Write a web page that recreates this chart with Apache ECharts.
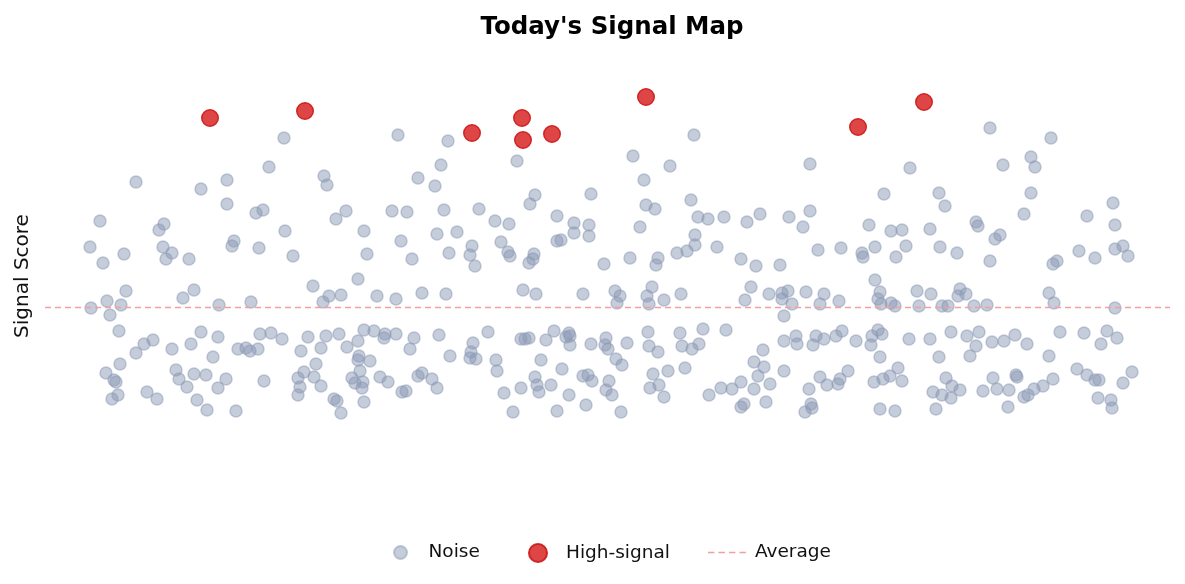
<!DOCTYPE html>
<html>
<head>
<meta charset="utf-8">
<script src="https://cdn.jsdelivr.net/npm/echarts@6/dist/echarts.min.js"></script>
<style>
html,body{margin:0;padding:0;background:#fff;}
#chart{width:1185px;height:584px;}
</style>
</head>
<body>
<div id="chart"></div>
<script>
const titleText = "Today's Signal Map";
const yAxisName = 'Signal Score';
const seriesNames = ['Noise', 'High-signal', 'Average'];
const averageScore = 1.77;

const highSignal = [
  [16.5,3.66],[26.0,3.73],[42.7,3.51],[47.7,3.66],[47.8,3.44],[50.7,3.50],[60.1,3.87],[81.3,3.57],[87.9,3.82]
];

const noiseA = [
  [23.9,3.46],[22.4,3.17],[27.9,3.08],[28.2,2.99],[9.1,3.02],[18.2,3.04],[15.6,2.95],[18.2,2.80],[21.1,2.71],[21.8,2.74],
  [30.1,2.73],[29.1,2.65],[5.5,2.63],[11.9,2.60],[11.4,2.54],[24.0,2.53],[18.9,2.43],[18.7,2.38],[4.5,2.37],[11.8,2.37],
  [12.7,2.31],[7.9,2.30],[21.4,2.36],[24.8,2.28],[5.8,2.21],[12.1,2.25],[14.4,2.25],
  [8.1,1.93],[6.2,1.83],[4.6,1.76],[7.6,1.79],[6.5,1.69],[13.8,1.86],[14.9,1.94],[17.4,1.79],[20.6,1.82],[26.8,1.98],
  [28.4,1.88],[27.8,1.82],[29.6,1.89],[7.4,1.53],[15.6,1.52],[10.8,1.44],[9.9,1.40],[9.1,1.31],[12.7,1.35],[14.6,1.40],
  [17.3,1.47],[21.5,1.50],[22.6,1.51],[23.7,1.45],[19.3,1.35],[20.1,1.36],[20.5,1.33],[21.3,1.35],[16.8,1.27],[26.3,1.47],
  [28.1,1.48],[29.4,1.50],[25.6,1.33],[27.6,1.36],[30.2,1.37],[7.5,1.20],[6.1,1.11],[6.9,1.04],[7.1,1.02],[13.1,1.14],
  [13.4,1.05],[14.9,1.10],[16.1,1.09],[18.1,1.05],[17.3,0.96],[14.2,0.97],[21.9,1.03],[27.1,1.20],[25.9,1.12],[25.3,1.06],
  [25.5,0.97],[25.3,0.89],[26.9,1.07],[27.6,0.98],[30.7,1.06],[10.2,0.92],[11.2,0.85],[7.3,0.89],[6.7,0.85],[15.2,0.84],
  [16.2,0.74],[19.1,0.73],[28.9,0.85],[29.2,0.83],[29.6,0.71]
];

const noiseB = [
  [35.3,3.49],[40.3,3.43],[39.6,3.19],[37.3,3.06],[39.0,2.98],[47.2,3.23],[49.0,2.89],[48.5,2.80],[54.6,2.90],[34.7,2.73],
  [36.2,2.72],[39.9,2.74],[43.4,2.75],[45.0,2.63],[46.4,2.60],[51.2,2.68],[52.9,2.61],[54.4,2.59],[31.9,2.53],[35.6,2.43],
  [39.2,2.50],[41.2,2.52],[45.6,2.42],[51.2,2.43],[51.6,2.44],[52.9,2.51],[54.4,2.48],[32.2,2.30],[36.7,2.25],[40.4,2.31],
  [42.7,2.38],[42.5,2.29],[46.3,2.32],[46.5,2.28],[48.9,2.30],[48.8,2.25],[48.4,2.21],[55.9,2.20],
  [43.0,2.18],[31.3,2.05],[33.2,1.88],[35.1,1.85],[37.7,1.91],[40.1,1.90],[47.8,1.94],[49.1,1.90],[53.8,1.90],
  [31.9,1.54],[32.9,1.53],[34.0,1.50],[33.9,1.46],[35.1,1.50],[31.3,1.43],[36.9,1.46],[36.5,1.35],[39.4,1.49],[31.4,1.28],
  [31.3,1.24],[32.5,1.23],[31.5,1.13],[31.0,1.01],[31.8,1.02],[31.7,0.96],[33.5,1.07],[34.3,1.02],[31.9,0.82],[35.7,0.92],
  [36.1,0.93],[37.3,1.08],[37.7,1.11],[38.7,1.05],[39.2,0.96],[40.5,1.28],[42.8,1.41],[42.6,1.32],[42.5,1.26],[43.1,1.25],
  [44.3,1.52],[45.1,1.24],[45.2,1.13],[45.9,0.91],[46.8,0.72],[47.6,0.96],[47.6,1.45],[48.0,1.45],[48.4,1.46],[50.1,1.44],
  [50.9,1.53],[49.6,1.24],[52.1,1.47],[52.4,1.51],[52.5,1.48],[52.5,1.39],[54.6,1.40],[51.7,1.15],[49.0,1.07],[49.2,0.99],
  [49.4,0.92],[50.6,0.99],[52.4,0.89],[51.2,0.73],[54.1,0.79],[53.8,1.08],[54.3,1.09],[54.7,1.03]
];

const noiseC = [
  [64.9,3.49],[58.8,3.28],[62.5,3.18],[59.9,3.04],[76.5,3.20],[64.6,2.84],[60.1,2.79],[61.0,2.75],[59.5,2.57],[65.3,2.67],
  [66.3,2.65],[67.9,2.67],[70.2,2.62],[71.5,2.70],[74.4,2.67],[76.5,2.73],[75.8,2.57],[82.4,2.59],[65.0,2.49],[65.0,2.39],
  [63.2,2.31],[64.2,2.33],[67.2,2.37],[77.3,2.34],[79.6,2.36],[81.7,2.31],[81.8,2.27],[58.5,2.26],[61.3,2.26],[69.6,2.25],
  [61.1,2.19],[71.1,2.18],[73.5,2.19],[57.0,1.93],[57.5,1.88],[57.2,1.81],[60.7,1.97],[60.2,1.88],[60.4,1.80],[61.9,1.84],
  [63.6,1.90],[70.6,1.97],[70.0,1.84],[72.4,1.90],[73.7,1.91],[74.3,1.93],[73.7,1.85],[74.7,1.80],[76.1,1.92],[77.9,1.90],
  [77.5,1.80],[79.4,1.83],[73.9,1.68],
  [56.1,1.46],[56.0,1.39],[56.3,1.35],[58.2,1.41],[57.1,1.25],[57.7,1.19],[60.3,1.52],[60.4,1.38],[61.3,1.32],[63.5,1.51],
  [63.7,1.38],[64.7,1.35],[65.4,1.40],[65.8,1.55],[68.1,1.54],[64.0,1.16],[62.3,1.13],[60.8,1.10],[61.4,0.99],[60.5,0.96],
  [61.9,0.87],[56.4,1.03],[56.1,0.94],[56.7,0.89],[57.6,0.72],[66.4,0.89],[67.6,0.96],[68.7,0.95],[69.6,1.02],[70.9,0.95],
  [70.9,1.22],[71.8,1.34],[71.9,1.17],[71.3,1.08],[72.5,1.00],[72.1,0.82],[69.6,0.77],[69.9,0.80],[73.9,1.43],[75.1,1.48],
  [75.2,1.40],[73.9,1.13],[77.1,1.48],[76.8,1.39],[77.9,1.45],[79.1,1.48],[79.7,1.53],[81.1,1.43],[77.5,1.07],[78.2,0.99],
  [79.3,1.00],[79.5,1.05],[80.3,1.13],[76.4,0.95],[76.6,0.80],[76.7,0.76],[76.0,0.72]
];

const noiseD = [
  [94.5,3.56],[100.6,3.46],[98.6,3.27],[99.0,3.17],[95.8,3.19],[86.5,3.16],[83.9,2.90],[89.4,2.91],[90.0,2.78],[98.6,2.91],
  [97.9,2.70],[106.8,2.81],[104.2,2.68],[107.0,2.59],[84.6,2.53],[85.7,2.54],[88.5,2.55],[93.1,2.62],[93.3,2.58],[95.5,2.49],
  [95.0,2.45],[83.0,2.37],[86.1,2.38],[89.5,2.37],[91.2,2.31],[85.1,2.27],[103.4,2.33],[105.0,2.26],[107.0,2.35],[107.8,2.38],
  [108.3,2.28],[94.5,2.23],[101.2,2.23],
  [100.8,2.20],[83.0,2.04],[83.5,1.92],[83.3,1.85],[83.6,1.80],[84.6,1.81],[85.0,1.78],[87.2,1.93],[87.4,1.78],[88.6,1.90],
  [89.7,1.78],[90.3,1.78],[91.5,1.95],[91.3,1.88],[92.1,1.90],[92.9,1.78],[94.2,1.79],[100.4,1.91],[100.9,1.81],[107.0,1.76],
  [83.3,1.54],[82.7,1.48],[83.7,1.50],[82.6,1.39],[83.5,1.27],[86.4,1.45],[88.5,1.45],[90.6,1.52],[89.4,1.27],[92.2,1.48],
  [93.4,1.52],[93.1,1.38],[92.5,1.28],[94.7,1.42],[95.9,1.43],[97.0,1.49],[98.2,1.40],[100.4,1.28],[101.5,1.52],[103.9,1.51],
  [106.2,1.53],[107.2,1.46],[105.6,1.40],[85.3,1.16],[84.5,1.08],[83.8,1.05],[82.9,1.02],[85.7,1.03],[90.1,1.06],[90.7,0.98],
  [91.5,0.94],[88.8,0.92],[89.7,0.89],[90.6,0.86],[89.1,0.75],[83.5,0.75],[85.0,0.73],[93.8,0.93],[94.8,1.06],[95.2,0.95],
  [96.4,0.94],[96.3,0.77],[97.1,1.09],[97.2,1.07],[97.9,0.87],[98.3,0.89],[98.9,0.95],[99.8,0.98],[100.8,1.05],[103.2,1.15],
  [104.2,1.09],[105.0,1.04],[105.4,1.04],[108.7,1.12],[107.8,1.01],[105.3,0.86],[106.6,0.84],[106.7,0.76]
];

const noise = noiseA.concat(noiseB, noiseC, noiseD);

const FONT = 'DejaVu Sans';
const AVG_COLOR = 'rgb(240,160,160)';
const chart = echarts.init(document.getElementById('chart'), null, {renderer: 'canvas'});

const legendBase = {
  orient: 'horizontal', top: 543, padding: 0,
  textStyle: {fontFamily: FONT, fontSize: 18.5, color: '#111'}
};

const dashIcon = 'path://M0,0h6.4v1.6h-6.4z M10.5,0h6.4v1.6h-6.4z M21,0h6.4v1.6h-6.4z M31.5,0h6.4v1.6h-6.4z';

chart.setOption({
  animation: false,
  backgroundColor: '#ffffff',
  title: {
    text: titleText, left: 607, top: 10, textAlign: 'center',
    textStyle: {fontFamily: FONT, fontSize: 24.5, fontWeight: 'bold', color: '#000'}
  },
  grid: {left: 45, right: 15, top: 34, bottom: 66},
  xAxis: {type: 'value', min: 0, max: 112.5, show: false},
  yAxis: {
    type: 'value', min: -0.34, max: 4.5,
    name: yAxisName, nameLocation: 'middle', nameGap: 12,
    nameTextStyle: {fontFamily: FONT, fontSize: 20, color: '#111'},
    axisLine: {show: false}, axisTick: {show: false}, axisLabel: {show: false}, splitLine: {show: false}
  },
  legend: [
    Object.assign({}, legendBase, {data: [seriesNames[0]], left: 393, itemWidth: 46, itemHeight: 13, icon: 'circle'}),
    Object.assign({}, legendBase, {data: [seriesNames[1]], left: 528, itemWidth: 46, itemHeight: 18, icon: 'circle'}),
    Object.assign({}, legendBase, {data: [{name: seriesNames[2], icon: dashIcon}], left: 708, itemWidth: 38, itemHeight: 1.6,
      textStyle: {fontFamily: FONT, fontSize: 18.5, color: '#111', padding: [0, 0, 0, 4]}})
  ],
  series: [
    {
      name: seriesNames[2], type: 'line', data: [], z: 1, symbol: 'none', showSymbol: false,
      lineStyle: {color: AVG_COLOR, width: 1.4, type: [6, 4]},
      itemStyle: {color: AVG_COLOR},
      markLine: {
        silent: true, symbol: 'none', label: {show: false},
        lineStyle: {color: AVG_COLOR, width: 1.4, type: [6, 4], opacity: 1},
        data: [{yAxis: averageScore}]
      }
    },
    {
      name: seriesNames[0], type: 'scatter', data: noise, z: 2, symbol: 'circle', symbolSize: 12,
      itemStyle: {color: 'rgba(140,154,181,0.5)', borderColor: 'rgba(140,154,181,0.5)', borderWidth: 1.5, opacity: 1}
    },
    {
      name: seriesNames[1], type: 'scatter', data: highSignal, z: 3, symbol: 'circle', symbolSize: 16.5,
      itemStyle: {color: 'rgba(216,40,40,0.86)', borderColor: 'rgba(205,30,30,0.95)', borderWidth: 1.5, opacity: 1}
    }
  ]
});
</script>
</body>
</html>
